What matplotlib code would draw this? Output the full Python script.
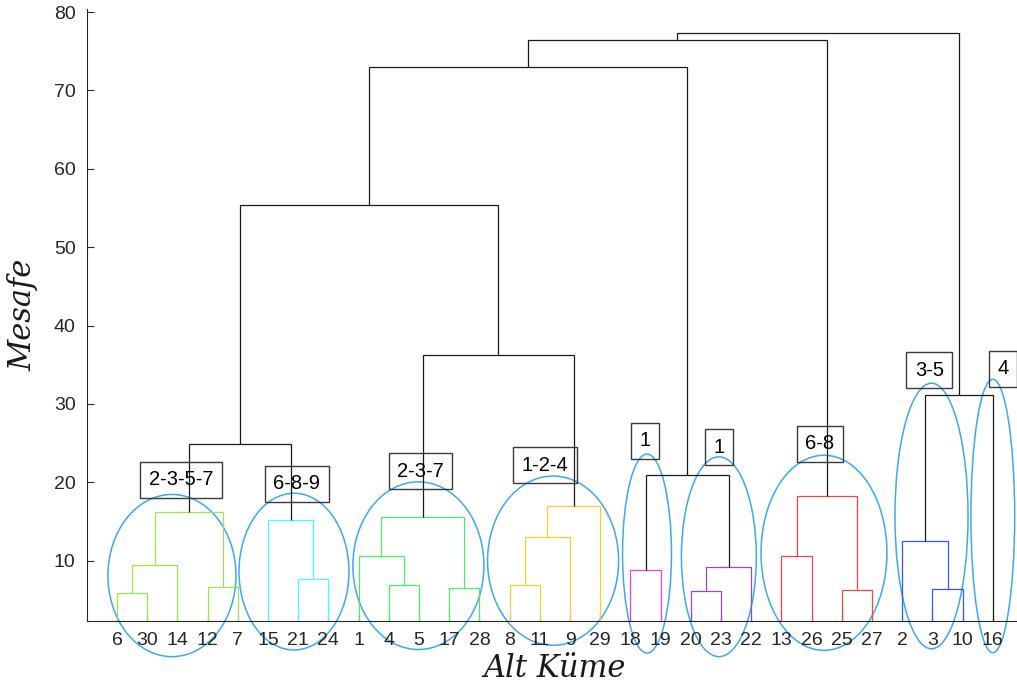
import matplotlib
matplotlib.use("Agg")
import matplotlib.pyplot as plt
from matplotlib.patches import Ellipse

# ---------------- data ----------------
leaf_order = [6, 30, 14, 12, 7, 15, 21, 24, 1, 4, 5, 17, 28, 8, 11, 9, 29,
              18, 19, 20, 23, 22, 13, 26, 25, 27, 2, 3, 10, 16]

# merges: (left child, right child, height, colour key); children are leaf labels (int) or merge ids ("m#")
merge_left = [6, "m0", 12, "m1", 21, 15, "m3", 4, 1, 17, "m8", 8, "m11", "m12", "m10", "m6",
              18, 20, "m17", "m16", "m15", 13, 25, "m21", "m20", 3, 2, "m26", "m24"]
merge_right = [30, 14, 7, "m2", 24, "m4", "m5", 5, "m7", 28, "m9", 11, 9, 29, "m13", "m14",
               19, 23, 22, "m18", "m19", 26, 27, "m22", "m23", 10, "m25", 16, "m27"]
merge_height = [5.9, 9.4, 6.7, 16.2, 7.7, 15.2, 24.9, 6.85, 10.55, 6.5, 15.6, 6.85, 13.0, 17.0, 36.3, 55.4,
                8.8, 6.1, 9.15, 20.9, 73.0, 10.6, 6.2, 18.2, 76.4, 6.4, 12.55, 31.2, 77.3]
merge_group = ["c1", "c1", "c1", "c1", "c2", "c2", "k", "c3", "c3", "c3", "c3", "c4", "c4", "c4", "k", "k",
               "c5", "c6", "c6", "k", "k", "c7", "c7", "c7", "k", "c8", "c8", "k", "k"]

group_colors = {"c1": "#9ee64f", "c2": "#4dfbfb", "c3": "#55e666", "c4": "#fcc93a",
                "c5": "#f53fd0", "c6": "#9b40f5", "c7": "#f54545", "c8": "#3456f5", "k": "#1a1a1a"}

# cluster annotation labels
box_labels = ["2-3-5-7", "6-8-9", "2-3-7", "1-2-4", "1", "1", "6-8", "3-5", "4"]
box_x = [3.12, 6.96, 11.05, 15.17, 18.47, 20.92, 24.28, 27.9, 30.35]
box_y = [20.3, 19.8, 21.4, 22.2, 25.3, 24.5, 24.9, 34.3, 34.5]

# ellipses around the clusters (centre x, centre y, width, height)
ell_x = [2.82, 6.86, 10.98, 15.44, 18.55, 20.93, 24.41, 27.97, 30.0]
ell_y = [8.1, 8.6, 9.36, 10.0, 10.9, 10.5, 11.0, 15.7, 15.7]
ell_w = [4.24, 3.64, 4.34, 4.34, 1.62, 2.48, 4.17, 2.42, 1.45]
ell_h = [20.7, 20.0, 21.4, 21.6, 25.4, 25.5, 24.9, 33.9, 34.9]

yticks = [10, 20, 30, 40, 50, 60, 70, 80]
xlabel = "Alt Küme"
ylabel = "Mesafe"

# ---------------- figure ----------------
fig = plt.figure(figsize=(10.17, 6.99), dpi=100)
ax = fig.add_axes([86.8 / 1017, 78 / 699, 936.2 / 1017, 612 / 699])

pos = {lab: i + 1 for i, lab in enumerate(leaf_order)}
node_x = {}
node_h = {}


def get(node):
    if isinstance(node, str):
        return node_x[node], node_h[node]
    return float(pos[node]), 0.0


for i, (l, r, h, g) in enumerate(zip(merge_left, merge_right, merge_height, merge_group)):
    xl, hl = get(l)
    xr, hr = get(r)
    col = group_colors[g]
    ax.plot([xl, xl, xr, xr], [hl, h, h, hr], color=col, lw=0.9, solid_capstyle="butt",
            solid_joinstyle="miter")
    node_x["m%d" % i] = (xl + xr) / 2
    node_h["m%d" % i] = h

for x, y, w, h in zip(ell_x, ell_y, ell_w, ell_h):
    ax.add_patch(Ellipse((x, y), w, h, fill=False, edgecolor="#3ea8f2", lw=1.1, clip_on=False))

for t, x, y in zip(box_labels, box_x, box_y):
    ax.text(x, y, t, ha="center", va="center", fontsize=14.5, family="Liberation Sans",
            color="black",
            bbox=dict(boxstyle="square,pad=0.42", fc="none", ec="#3a3a3a", lw=1.0), clip_on=False)

ax.set_xlim(0, 31)
ax.set_ylim(2.3, 80.4)
ax.set_yticks(yticks)
ax.set_xticks(range(1, len(leaf_order) + 1))
ax.set_xticklabels([str(v) for v in leaf_order])
ax.tick_params(direction="in", length=5, width=0.8, colors="#262626", labelsize=14, pad=8)
for lab in ax.get_xticklabels() + ax.get_yticklabels():
    lab.set_family("Liberation Sans")
    lab.set_color("#262626")
ax.spines["top"].set_visible(False)
ax.spines["right"].set_visible(False)
ax.spines["left"].set_color("#262626")
ax.spines["bottom"].set_color("#262626")
ax.spines["left"].set_linewidth(0.8)
ax.spines["bottom"].set_linewidth(0.8)

ax.set_xlabel(xlabel, family="DejaVu Serif", style="italic", fontsize=22, labelpad=3, color="#1a1a1a")
ax.set_ylabel(ylabel, family="DejaVu Serif", style="italic", fontsize=22, labelpad=11, color="#1a1a1a")

fig.savefig("out.png", dpi=100)
